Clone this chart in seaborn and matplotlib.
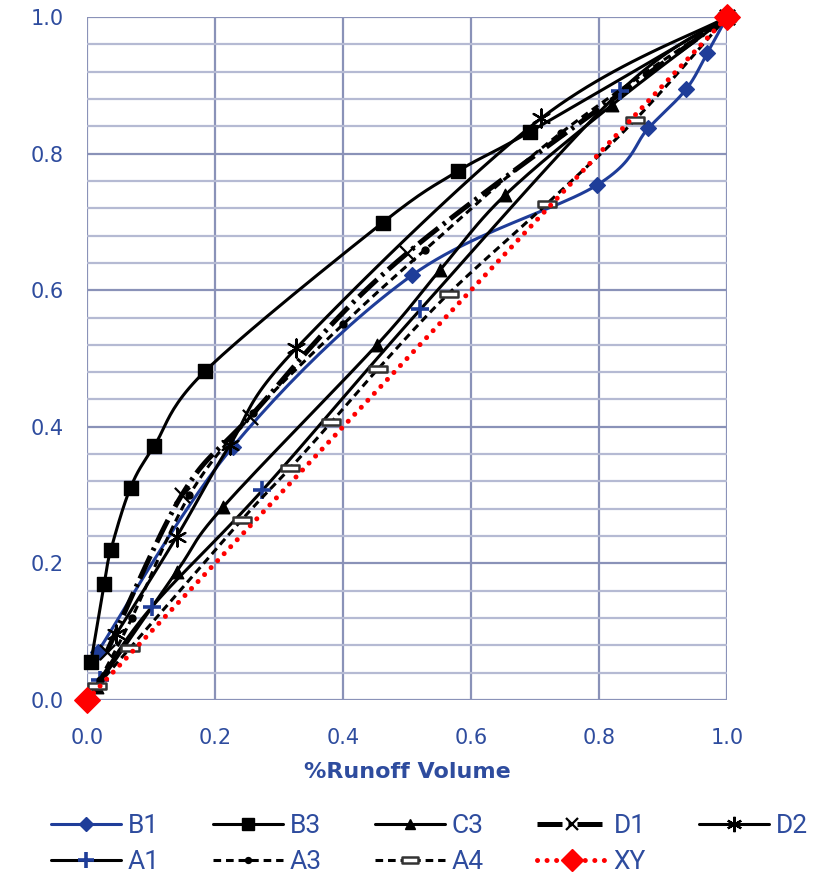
import numpy as np
import matplotlib
matplotlib.use("Agg")
import matplotlib.pyplot as plt
from matplotlib.lines import Line2D
from matplotlib.path import Path
import seaborn as sns

# ---- data ----
B1_x = [0.017, 0.228, 0.508, 0.797, 0.877, 0.936, 0.969, 1.0]
B1_y = [0.071, 0.371, 0.622, 0.754, 0.837, 0.894, 0.947, 1.0]
B3_x = [0.006, 0.027, 0.037, 0.068, 0.105, 0.185, 0.462, 0.579, 0.692, 1.0]
B3_y = [0.055, 0.170, 0.219, 0.311, 0.372, 0.482, 0.699, 0.774, 0.832, 1.0]
C3_x = [0.015, 0.140, 0.213, 0.453, 0.552, 0.653, 0.820, 1.0]
C3_y = [0.019, 0.188, 0.283, 0.520, 0.630, 0.739, 0.871, 1.0]
D1_x = [0.031, 0.148, 0.255, 0.500, 1.0]
D1_y = [0.071, 0.300, 0.415, 0.654, 1.0]
D2_x = [0.046, 0.140, 0.223, 0.327, 0.710, 1.0]
D2_y = [0.097, 0.239, 0.373, 0.515, 0.852, 1.0]
A1_x = [0.020, 0.101, 0.274, 0.521, 0.833, 1.0]
A1_y = [0.030, 0.136, 0.307, 0.572, 0.891, 1.0]
A3_x = [0.020, 0.070, 0.160, 0.260, 0.400, 0.528, 0.740, 1.0]
A3_y = [0.030, 0.120, 0.300, 0.420, 0.550, 0.659, 0.830, 1.0]
A4_x = [0.015, 0.067, 0.242, 0.317, 0.382, 0.455, 0.565, 0.718, 0.856, 1.0]
A4_y = [0.020, 0.076, 0.264, 0.339, 0.407, 0.485, 0.595, 0.726, 0.849, 1.0]
XY_x = [0.0, 1.0]
XY_y = [0.0, 1.0]

ticks = [0.0, 0.2, 0.4, 0.6, 0.8, 1.0]
tick_labels = ["0.0", "0.2", "0.4", "0.6", "0.8", "1.0"]
x_label = "%Runoff Volume"

# ---- style ----
sns.set_theme(style="white")
plt.rcParams["font.family"] = ["DejaVu Sans"]

BLUE = "#1F3D99"
TXT = "#2E4C9E"
GRID_MAJ = "#8A92B8"
GRID_MIN = "#B5BAD3"


def smooth(xs, ys, n=25):
    P = np.column_stack([xs, ys]).astype(float)
    out = []
    for i in range(len(P) - 1):
        p0 = P[i - 1] if i > 0 else P[i]
        p1, p2 = P[i], P[i + 1]
        p3 = P[i + 2] if i + 2 < len(P) else P[i + 1]
        c1 = p1 + (p2 - p0) / 6.0
        c2 = p2 - (p3 - p1) / 6.0
        t = np.linspace(0, 1, n)[:, None]
        seg = (1 - t) ** 3 * p1 + 3 * (1 - t) ** 2 * t * c1 + 3 * (1 - t) * t ** 2 * c2 + t ** 3 * p2
        out.append(seg if i == 0 else seg[1:])
    S = np.vstack(out)
    return S[:, 0], S[:, 1]


rect = Path([(-1, -0.35), (1, -0.35), (1, 0.35), (-1, 0.35), (-1, -0.35)],
            [Path.MOVETO, Path.LINETO, Path.LINETO, Path.LINETO, Path.CLOSEPOLY])
asterisk = (6, 2, 0)

series = [
    # name, x, y, line color, lw, linestyle, marker, msize(pt), mface, medge, mew
    ("B1", B1_x, B1_y, BLUE, 2.2, "-", "D", 8, BLUE, BLUE, 1.0),
    ("B3", B3_x, B3_y, "black", 2.2, "-", "s", 10, "black", "black", 1.0),
    ("C3", C3_x, C3_y, "black", 2.2, "-", "^", 9, "black", "black", 1.0),
    ("D1", D1_x, D1_y, "black", 3.6, (0, (5, 1.2, 0.6, 1.2)), "x", 11, "black", "black", 1.6),
    ("D2", D2_x, D2_y, "black", 2.2, "-", asterisk, 13, "black", "black", 1.6),
    ("A1", A1_x, A1_y, "black", 2.2, "-", "+", 13, BLUE, BLUE, 2.6),
    ("A3", A3_x, A3_y, "black", 2.2, (0, (2.5, 1.6)), "o", 5, "black", "black", 1.0),
    ("A4", A4_x, A4_y, "black", 2.2, (0, (2.5, 1.6)), rect, 13, "white", "#333333", 1.8),
    ("XY", XY_x, XY_y, "#FF0000", 3.6, (0, (0.01, 1.9)), "D", 13, "#FF0000", "#FF0000", 1.0),
]

fig = plt.figure(figsize=(8.21, 8.77), dpi=100)
ax = fig.add_axes([0.106, 0.2018, 0.7795, 0.7788])

handles = {}
for k, (name, xs, ys, col, lw, ls, mk, ms, mf, me, mew) in enumerate(series):
    sx, sy = smooth(xs, ys)
    line_ax = sns.lineplot(x=sx, y=sy, sort=False, estimator=None, ax=ax, color=col,
                           linewidth=lw, zorder=3 + k, legend=False)
    ln = line_ax.lines[-1]
    ln.set_linestyle(ls)
    ln.set_dash_capstyle("round" if name == "XY" else "butt")
    ln.set_solid_capstyle("round")
    if name == "XY":
        mx, my = [xs[0], xs[-1]], [ys[0], ys[-1]]
    else:
        mx, my = xs, ys
    sns.scatterplot(x=mx, y=my, ax=ax, marker=mk, s=ms ** 2, color=mf, edgecolor=me,
                    linewidth=mew, zorder=3.5 + k, legend=False, clip_on=False)
    handles[name] = Line2D([0], [0], color=col, lw=lw, linestyle=ls, marker=mk,
                           markersize=ms * 0.85, markerfacecolor=mf, markeredgecolor=me,
                           markeredgewidth=mew, dash_capstyle="round" if name == "XY" else "butt")

ax.set_xlim(0, 1)
ax.set_ylim(0, 1)
ax.set_xticks(ticks)
ax.set_xticklabels(tick_labels, fontfamily="DejaVu Sans")
ax.set_yticks(ticks)
ax.set_yticklabels(tick_labels, fontfamily="DejaVu Sans")
ax.set_yticks(np.arange(0, 1.0001, 0.04), minor=True)
ax.grid(which="major", axis="both", color=GRID_MAJ, linewidth=1.6, zorder=0)
ax.grid(which="minor", axis="y", color=GRID_MIN, linewidth=1.6, zorder=0)
ax.set_axisbelow(True)
for s in ax.spines.values():
    s.set_visible(False)
ax.tick_params(axis="both", which="both", length=0, labelsize=15, labelcolor=TXT)
ax.tick_params(axis="x", pad=20)
ax.tick_params(axis="y", pad=17)
ax.set_xlabel(x_label, fontsize=16, fontweight="bold", color=TXT, labelpad=10,
              fontfamily="DejaVu Sans")

order = ["B1", "A1", "B3", "A3", "C3", "A4", "D1", "XY", "D2"]
leg = fig.legend([handles[n] for n in order], order, loc="upper left",
                 bbox_to_anchor=(0.036, 0.096), ncol=5, frameon=False,
                 handlelength=2.65, handletextpad=0.27, columnspacing=2.0,
                 labelspacing=0.45, borderpad=0.3,
                 prop={"family": ["Roboto", "DejaVu Sans"], "size": 19})
for t in leg.get_texts():
    t.set_color(TXT)

fig.savefig("out.png", dpi=100)
